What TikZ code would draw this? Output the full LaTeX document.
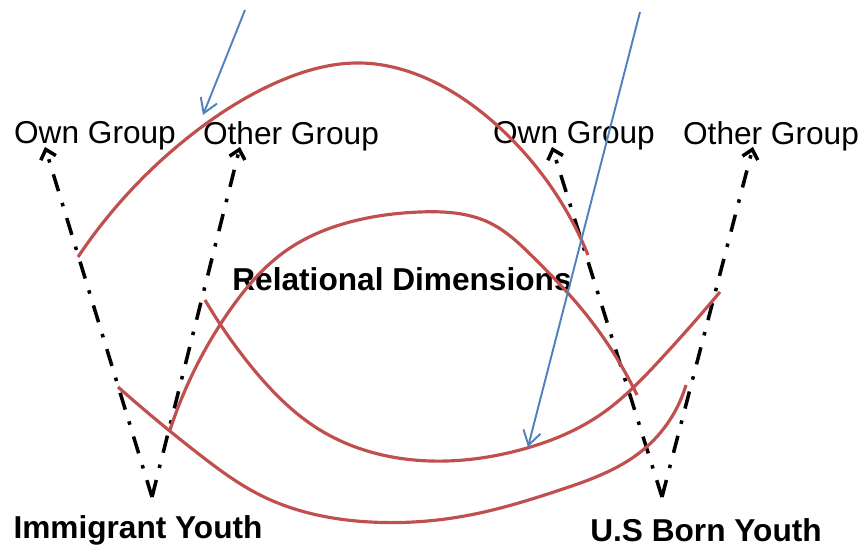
\documentclass[tikz,border=0pt]{standalone}
\usepackage{fontspec}
\setmainfont{Liberation Sans}
\usetikzlibrary{arrows.meta,hobby}
\definecolor{linkRed}{RGB}{192, 80, 77}
\definecolor{noteBlue}{RGB}{79, 129, 189}
\begin{document}
\begin{tikzpicture}[line join=round,
  lab/.style={font=\fontsize{18}{21.6}\selectfont, inner sep=0pt},
  boldlab/.style={lab, font=\fontsize{18}{21.6}\selectfont\bfseries},
  dimarrow/.style={-{Straight Barb[length=5pt,width=9pt,line width=2pt]}, line width=2pt,
    dash pattern=on 10pt off 7pt on 2pt off 7pt},
  relcurve/.style={linkRed, line width=1.8pt, use Hobby shortcut},
  notearrow/.style={-{Straight Barb[length=8pt,width=10pt]}, noteBlue, line width=1.1pt}]
\useasboundingbox (0,0) rectangle (17.28,10.92);
\coordinate (ImmBase) at (3.04,0.98);
\coordinate (UsBase) at (13.24,0.98);
\coordinate (ImmOwn) at (0.90,7.98);
\coordinate (ImmOther) at (4.80,7.98);
\coordinate (UsOwn) at (11.04,7.98);
\coordinate (UsOther) at (15.06,7.98);
\coordinate (NoteA) at (4.90,10.72);
\coordinate (NoteB) at (12.80,10.68);
\node[lab] (ownL) at (1.90,8.20) {Own Group};
\node[lab] (otherL) at (5.82,8.20) {Other Group};
\node[lab] (ownR) at (11.48,8.20) {Own Group};
\node[lab] (otherR) at (15.42,8.20) {Other Group};
\node[boldlab] (rel) at (8.04,5.34) {Relational Dimensions};
\node[boldlab] (imm) at (2.76,0.32) {Immigrant Youth};
\node[boldlab] (usb) at (14.12,0.32) {U.S Born Youth};
\coordinate (TipA) at (4.06,8.62);
\coordinate (TipB) at (10.56,1.98);
\draw[dimarrow] (ImmBase) -- (ImmOwn);
\draw[dimarrow] (ImmBase) -- (ImmOther);
\draw[dimarrow] (UsBase) -- (UsOwn);
\draw[dimarrow] (UsBase) -- (UsOther);
\draw[relcurve] (1.56,5.78) .. (3.90,8.28) .. (5.60,9.30) .. (7.20,9.66) .. (8.60,9.32) .. (10.00,8.36) .. (11.76,5.82);
\draw[relcurve] (3.40,2.32) .. (4.60,4.72) .. (5.74,5.92) .. (7.00,6.48) .. (8.40,6.68) .. (9.80,6.46) .. (10.66,5.78) .. (11.60,4.78) .. (12.74,3.02);
\draw[relcurve] (4.10,4.92) .. (5.00,3.62) .. (6.40,2.32) .. (8.60,1.70) .. (10.40,1.92) .. (12.00,2.62) .. (13.20,3.72) .. (14.40,5.08);
\draw[relcurve] (2.36,3.18) .. (4.00,1.82) .. (5.20,1.02) .. (7.40,0.48) .. (9.40,0.62) .. (11.20,1.12) .. (12.86,1.92) .. (13.72,3.22);
\draw[notearrow] (NoteA) -- (TipA);
\draw[notearrow] (NoteB) -- (TipB);
\end{tikzpicture}
\end{document}
